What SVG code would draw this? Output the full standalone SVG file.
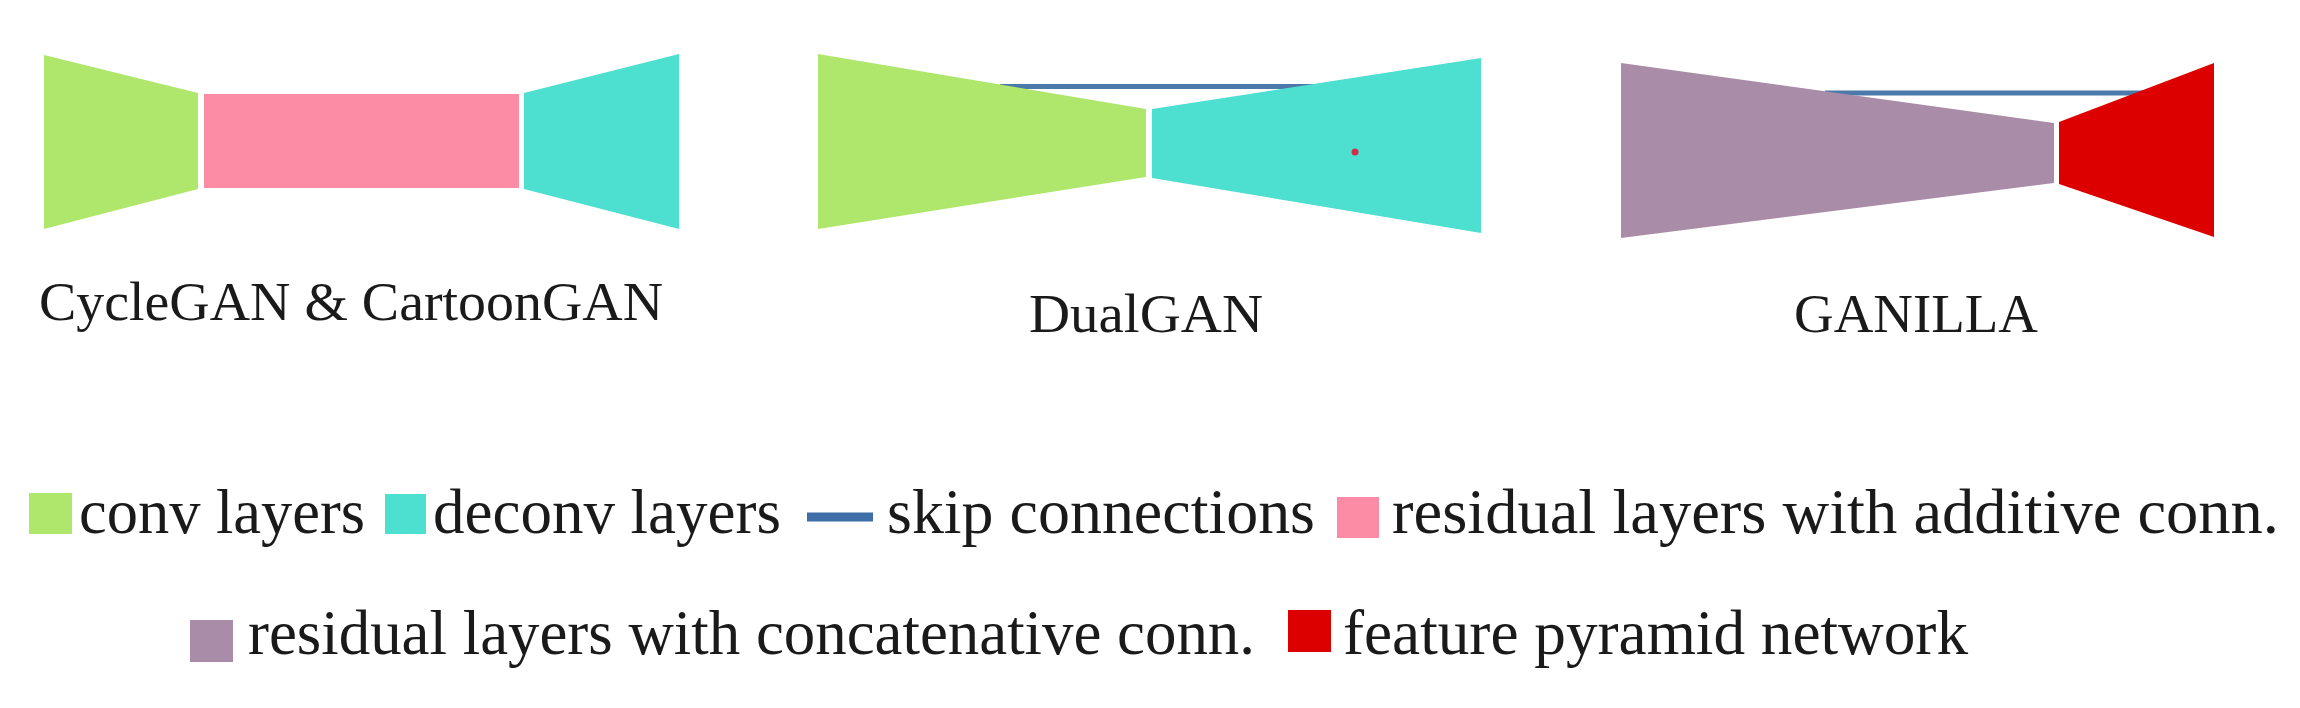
<svg xmlns="http://www.w3.org/2000/svg" width="2300" height="708" viewBox="0 0 2300 708">
<style>
.conv{fill:#aee76b}
.deconv{fill:#4ddfcf}
.resadd{fill:#fc8ca6}
.rescat{fill:#a98ca8}
.fpn{fill:#dc0000}
.skip{stroke:#4a79aa;stroke-width:5;fill:none}
.lbl{font-family:"Liberation Serif","Times New Roman",serif;font-size:55px;fill:#1a1a1a}
.leg{font-family:"Liberation Serif","Times New Roman",serif;font-size:63px;fill:#1a1a1a}
</style>
<rect width="2300" height="708" fill="#ffffff"/>
<g id="connectors">
<line class="skip" x1="1000" y1="86.5" x2="1320" y2="86.5"/>
<line class="skip" x1="1825" y1="93" x2="2145" y2="93"/>
</g>
<g id="cyclegan">
<polygon id="cyc-conv" class="conv" points="44,55 198,93 198,189 44,229"/>
<rect id="cyc-res" class="resadd" x="204" y="94" width="315" height="94"/>
<polygon id="cyc-deconv" class="deconv" points="524,93 679,54 679,229 524,189"/>
<text class="lbl" x="39" y="320" textLength="624" lengthAdjust="spacingAndGlyphs">CycleGAN &amp; CartoonGAN</text>
</g>
<g id="dualgan">
<polygon id="dual-conv" class="conv" points="818,54 1146,109 1146,177 818,229"/>
<polygon id="dual-deconv" class="deconv" points="1152,109 1481,58 1481,233 1152,178"/>
<circle cx="1355" cy="152" r="3.5" fill="#d0304a"/>
<text class="lbl" x="1029" y="332" textLength="234" lengthAdjust="spacingAndGlyphs">DualGAN</text>
</g>
<g id="ganilla">
<polygon id="gan-res" class="rescat" points="1621,63 2054,123 2054,183 1621,238"/>
<polygon id="gan-fpn" class="fpn" points="2059,122 2214,63 2214,237 2059,184"/>
<text class="lbl" x="1794" y="332" textLength="244" lengthAdjust="spacingAndGlyphs">GANILLA</text>
</g>
<g id="legend">
<g id="leg-conv">
<rect class="conv" x="29" y="493" width="43" height="41"/>
<text class="leg" x="79" y="533" textLength="286" lengthAdjust="spacingAndGlyphs">conv layers</text>
</g>
<g id="leg-deconv">
<rect class="deconv" x="385" y="494" width="41" height="40"/>
<text class="leg" x="433" y="533" textLength="348" lengthAdjust="spacingAndGlyphs">deconv layers</text>
</g>
<g id="leg-skip">
<line x1="807" y1="517" x2="873" y2="517" stroke="#3d6ea8" stroke-width="9"/>
<text class="leg" x="887" y="533" textLength="428" lengthAdjust="spacingAndGlyphs">skip connections</text>
</g>
<g id="leg-resadd">
<rect class="resadd" x="1337" y="497" width="42" height="41"/>
<text class="leg" x="1392" y="533" textLength="887" lengthAdjust="spacingAndGlyphs">residual layers with additive conn.</text>
</g>
<g id="leg-rescat">
<rect class="rescat" x="190" y="620" width="43" height="42"/>
<text class="leg" x="248" y="654" textLength="1007" lengthAdjust="spacingAndGlyphs">residual layers with concatenative conn.</text>
</g>
<g id="leg-fpn">
<rect class="fpn" x="1288" y="610" width="43" height="42"/>
<text class="leg" x="1343" y="654" textLength="625" lengthAdjust="spacingAndGlyphs">feature pyramid network</text>
</g>
</g>
</svg>
